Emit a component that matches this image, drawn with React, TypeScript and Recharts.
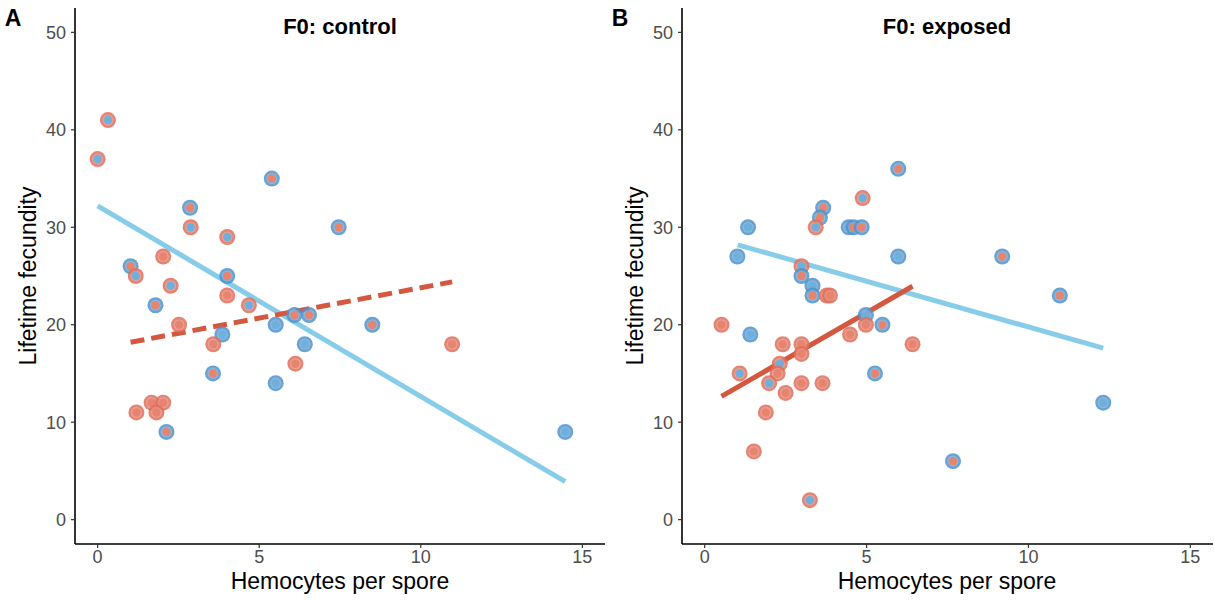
import React from "react";
import { ScatterChart, Scatter, XAxis, YAxis } from "recharts";

// o = outer ring colour group, i = inner dot colour group ("r" red, "b" blue)
const controlPoints = [
  { x: 0.32, y: 41, o: "r", i: "b" },
  { x: 0.0, y: 37, o: "r", i: "b" },
  { x: 5.39, y: 35, o: "b", i: "r" },
  { x: 2.86, y: 32, o: "b", i: "r" },
  { x: 2.88, y: 30, o: "r", i: "b" },
  { x: 4.01, y: 29, o: "r", i: "b" },
  { x: 7.46, y: 30, o: "b", i: "r" },
  { x: 1.02, y: 26, o: "b", i: "r" },
  { x: 1.18, y: 25, o: "r", i: "b" },
  { x: 2.03, y: 27, o: "r", i: "r" },
  { x: 2.26, y: 24, o: "r", i: "b" },
  { x: 4.01, y: 25, o: "b", i: "r" },
  { x: 4.01, y: 23, o: "r", i: "r" },
  { x: 4.68, y: 22, o: "r", i: "b" },
  { x: 1.79, y: 22, o: "b", i: "r" },
  { x: 2.52, y: 20, o: "r", i: "r" },
  { x: 3.86, y: 19, o: "b", i: "b" },
  { x: 3.58, y: 18, o: "r", i: "r" },
  { x: 5.51, y: 20, o: "b", i: "b" },
  { x: 6.09, y: 21, o: "b", i: "r" },
  { x: 6.54, y: 21, o: "b", i: "r" },
  { x: 6.41, y: 18, o: "b", i: "b" },
  { x: 6.12, y: 16, o: "r", i: "r" },
  { x: 8.5, y: 20, o: "b", i: "r" },
  { x: 3.57, y: 15, o: "b", i: "r" },
  { x: 5.51, y: 14, o: "b", i: "b" },
  { x: 1.67, y: 12, o: "r", i: "r" },
  { x: 2.03, y: 12, o: "r", i: "r" },
  { x: 1.82, y: 11, o: "r", i: "r" },
  { x: 1.2, y: 11, o: "r", i: "r" },
  { x: 2.13, y: 9, o: "b", i: "r" },
  { x: 10.97, y: 18, o: "r", i: "r" },
  { x: 14.47, y: 9, o: "b", i: "b" },
];

const exposedPoints = [
  { x: 5.98, y: 36, o: "b", i: "r" },
  { x: 4.88, y: 33, o: "r", i: "b" },
  { x: 3.66, y: 32, o: "b", i: "r" },
  { x: 3.56, y: 31, o: "b", i: "r" },
  { x: 3.43, y: 30, o: "r", i: "b" },
  { x: 1.34, y: 30, o: "b", i: "b" },
  { x: 4.45, y: 30, o: "b", i: "b" },
  { x: 4.6, y: 30, o: "b", i: "r" },
  { x: 4.85, y: 30, o: "b", i: "r" },
  { x: 1.01, y: 27, o: "b", i: "b" },
  { x: 5.98, y: 27, o: "b", i: "b" },
  { x: 2.99, y: 26, o: "r", i: "b" },
  { x: 2.99, y: 25, o: "b", i: "r" },
  { x: 3.33, y: 24, o: "b", i: "b" },
  { x: 3.33, y: 23, o: "b", i: "r" },
  { x: 3.77, y: 23, o: "r", i: "r" },
  { x: 3.87, y: 23, o: "r", i: "r" },
  { x: 4.98, y: 21, o: "b", i: "b" },
  { x: 4.98, y: 20, o: "r", i: "r" },
  { x: 5.49, y: 20, o: "b", i: "r" },
  { x: 4.49, y: 19, o: "r", i: "r" },
  { x: 6.42, y: 18, o: "r", i: "r" },
  { x: 0.52, y: 20, o: "r", i: "r" },
  { x: 1.41, y: 19, o: "b", i: "b" },
  { x: 2.41, y: 18, o: "r", i: "r" },
  { x: 2.99, y: 18, o: "r", i: "r" },
  { x: 2.99, y: 17, o: "r", i: "r" },
  { x: 2.32, y: 16, o: "r", i: "b" },
  { x: 2.25, y: 15, o: "r", i: "r" },
  { x: 1.08, y: 15, o: "r", i: "b" },
  { x: 1.99, y: 14, o: "r", i: "b" },
  { x: 2.99, y: 14, o: "r", i: "r" },
  { x: 3.64, y: 14, o: "r", i: "r" },
  { x: 2.5, y: 13, o: "r", i: "r" },
  { x: 5.26, y: 15, o: "b", i: "r" },
  { x: 1.89, y: 11, o: "r", i: "r" },
  { x: 1.52, y: 7, o: "r", i: "r" },
  { x: 3.25, y: 2, o: "r", i: "b" },
  { x: 7.67, y: 6, o: "b", i: "r" },
  { x: 9.19, y: 27, o: "b", i: "r" },
  { x: 10.97, y: 23, o: "b", i: "r" },
  { x: 12.31, y: 12, o: "b", i: "b" },
];

const controlFitBlue = [
  { x: 0.0, y: 32.2 },
  { x: 14.47, y: 3.9 },
];
const controlFitRed = [
  { x: 1.02, y: 18.2 },
  { x: 10.97, y: 24.4 },
];
const exposedFitBlue = [
  { x: 1.02, y: 28.2 },
  { x: 12.31, y: 17.6 },
];
const exposedFitRed = [
  { x: 0.52, y: 12.65 },
  { x: 6.42, y: 23.95 },
];

const xTicks = [0, 5, 10, 15];
const yTicks = [0, 10, 20, 30, 40, 50];
const panelTitles = ["F0: control", "F0: exposed"];
const panelLetters = ["A", "B"];

const OUTER = { r: "#df6f5c", b: "#4f93cc" };
const INNER = { r: "#e68470", b: "#6eafdc" };
const FONT = "'Liberation Sans', Arial, Helvetica, sans-serif";

const PointShape = (props: any) => {
  const { cx, cy, payload } = props;
  if (cx == null || cy == null || !payload) return <g />;
  const oc = OUTER[payload.o as "r" | "b"];
  const ic = INNER[payload.i as "r" | "b"];
  return (
    <g>
      <circle cx={cx} cy={cy} r={8} fill={oc} fillOpacity={0.85} />
      <circle cx={cx} cy={cy} r={5.6} fill="#ffffff" fillOpacity={0.22} />
      <circle cx={cx} cy={cy} r={4.2} fill={ic} fillOpacity={1} />
    </g>
  );
};

const NoShape = () => <g />;

const tickStyle = { fill: "#4d4d4d", fontSize: 18, fontFamily: FONT };

function Panel(props: {
  points: any[];
  blue: any[];
  red: any[];
  redDashed: boolean;
  left: number;
  idx: number;
}) {
  const { points, blue, red, redDashed, left, idx } = props;
  return (
    <div style={{ position: "absolute", left, top: 0, width: 607, height: 600 }}>
      <ScatterChart
        width={607}
        height={600}
        margin={{ top: 8, right: idx === 0 ? 2 : 1, bottom: 0, left: 0 }}
      >
        <XAxis
          type="number"
          dataKey="x"
          domain={[-0.7, 15.7]}
          ticks={xTicks}
          allowDataOverflow
          height={56}
          tick={tickStyle}
          tickSize={4}
          tickMargin={2}
          axisLine={{ stroke: "#000", strokeWidth: 1.6 }}
          tickLine={{ stroke: "#333", strokeWidth: 1.2 }}
        />
        <YAxis
          type="number"
          dataKey="y"
          domain={[-2.5, 52.5]}
          ticks={yTicks}
          allowDataOverflow
          width={75}
          tick={tickStyle}
          tickSize={4}
          tickMargin={5}
          axisLine={{ stroke: "#000", strokeWidth: 1.6 }}
          tickLine={{ stroke: "#333", strokeWidth: 1.2 }}
        />
        <Scatter
          data={blue}
          line={{ stroke: "#87cdea", strokeWidth: 5 }}
          shape={NoShape}
          isAnimationActive={false}
          legendType="none"
        />
        <Scatter
          data={red}
          line={{
            stroke: "#d4583f",
            strokeWidth: 5,
            strokeDasharray: redDashed ? "14 7" : undefined,
          }}
          shape={NoShape}
          isAnimationActive={false}
          legendType="none"
        />
        <Scatter data={points} shape={PointShape} isAnimationActive={false} />
      </ScatterChart>
      <div
        style={{
          position: "absolute",
          left: 0,
          top: 5,
          width: 26,
          fontFamily: FONT,
          fontWeight: "bold",
          fontSize: 23,
          textAlign: "center",
          color: "#000",
        }}
      >
        {panelLetters[idx]}
      </div>
      <div
        style={{
          position: "absolute",
          left: 75,
          width: 530,
          top: 14,
          fontFamily: FONT,
          fontWeight: "bold",
          fontSize: 22,
          textAlign: "center",
          color: "#000",
        }}
      >
        {panelTitles[idx]}
      </div>
      <div
        style={{
          position: "absolute",
          left: 75,
          width: 530,
          top: 568,
          fontFamily: FONT,
          fontSize: 23,
          lineHeight: "26px",
          textAlign: "center",
          color: "#000",
        }}
      >
        Hemocytes per spore
      </div>
      <div
        style={{
          position: "absolute",
          left: 28 - 150,
          top: 276 - 14,
          width: 300,
          height: 28,
          lineHeight: "28px",
          fontFamily: FONT,
          fontSize: 23,
          textAlign: "center",
          color: "#000",
          transform: "rotate(-90deg)",
        }}
      >
        Lifetime fecundity
      </div>
    </div>
  );
}

export default function App() {
  return (
    <div
      style={{
        position: "absolute",
        left: 0,
        top: 0,
        width: 1214,
        height: 600,
        background: "#fff",
        overflow: "hidden",
      }}
    >
      <Panel
        points={controlPoints}
        blue={controlFitBlue}
        red={controlFitRed}
        redDashed={true}
        left={0}
        idx={0}
      />
      <Panel
        points={exposedPoints}
        blue={exposedFitBlue}
        red={exposedFitRed}
        redDashed={false}
        left={607}
        idx={1}
      />
    </div>
  );
}
